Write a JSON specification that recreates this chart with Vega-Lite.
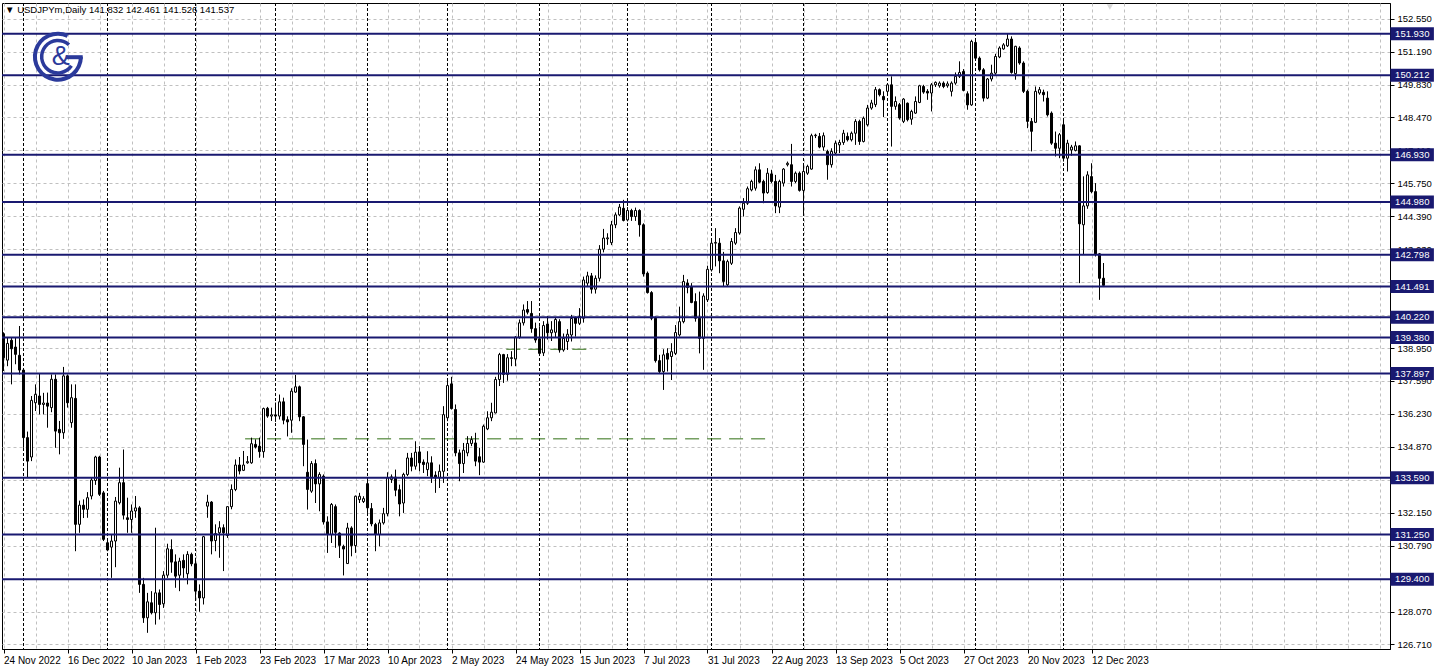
{
"$schema":"https://vega.github.io/schema/vega-lite/v6.json",
"width":1388,"height":646,
"autosize":{"type":"none"},
"padding":{"left":2,"top":3,"right":48,"bottom":22},
"background":"white",
"config":{"view":{"stroke":"black","strokeWidth":1},"font":"Liberation Sans","scale":{"continuousPadding":0}},
"datasets":{
"ohlc":[
{"i":0,"t":"2022-11-24","o":139.54,"h":139.6,"l":138.0,"c":138.55},
{"i":1,"t":"2022-11-25","o":138.45,"h":139.4,"l":138.2,"c":139.14},
{"i":2,"t":"2022-11-28","o":139.27,"h":139.4,"l":137.45,"c":138.92},
{"i":3,"t":"2022-11-29","o":138.99,"h":139.38,"l":138.28,"c":138.69},
{"i":4,"t":"2022-11-30","o":138.65,"h":139.86,"l":137.86,"c":138.04},
{"i":5,"t":"2022-12-01","o":138.04,"h":138.1,"l":134.83,"c":135.25},
{"i":6,"t":"2022-12-02","o":135.25,"h":135.5,"l":133.62,"c":134.28},
{"i":7,"t":"2022-12-05","o":134.45,"h":136.97,"l":134.28,"c":136.79},
{"i":8,"t":"2022-12-06","o":136.69,"h":137.45,"l":136.35,"c":137.04},
{"i":9,"t":"2022-12-07","o":136.97,"h":137.89,"l":136.21,"c":136.62},
{"i":10,"t":"2022-12-08","o":136.62,"h":137.1,"l":136.21,"c":136.68},
{"i":11,"t":"2022-12-09","o":136.68,"h":137.11,"l":135.66,"c":136.55},
{"i":12,"t":"2022-12-12","o":136.49,"h":137.86,"l":136.3,"c":137.66},
{"i":13,"t":"2022-12-13","o":137.66,"h":137.86,"l":134.83,"c":135.52},
{"i":14,"t":"2022-12-14","o":135.59,"h":135.94,"l":134.56,"c":135.45},
{"i":15,"t":"2022-12-15","o":135.45,"h":138.17,"l":135.2,"c":137.8},
{"i":16,"t":"2022-12-16","o":137.8,"h":137.86,"l":136.49,"c":136.69},
{"i":17,"t":"2022-12-19","o":135.87,"h":137.45,"l":135.66,"c":136.9},
{"i":18,"t":"2022-12-20","o":136.87,"h":137.45,"l":130.56,"c":131.67},
{"i":19,"t":"2022-12-21","o":131.67,"h":132.65,"l":131.32,"c":132.46},
{"i":20,"t":"2022-12-22","o":132.46,"h":132.7,"l":131.93,"c":132.29},
{"i":21,"t":"2022-12-23","o":132.29,"h":133.0,"l":131.94,"c":132.77},
{"i":22,"t":"2022-12-27","o":132.84,"h":133.6,"l":132.7,"c":133.5},
{"i":23,"t":"2022-12-28","o":133.48,"h":134.5,"l":133.3,"c":134.45},
{"i":24,"t":"2022-12-29","o":134.45,"h":134.5,"l":132.84,"c":132.91},
{"i":25,"t":"2022-12-30","o":132.97,"h":133.05,"l":130.98,"c":131.05},
{"i":26,"t":"2023-01-02","o":130.91,"h":131.05,"l":130.56,"c":130.61},
{"i":27,"t":"2023-01-03","o":130.73,"h":131.25,"l":129.46,"c":130.98},
{"i":28,"t":"2023-01-04","o":130.98,"h":132.8,"l":129.9,"c":132.63},
{"i":29,"t":"2023-01-05","o":132.56,"h":134.01,"l":132.49,"c":133.39},
{"i":30,"t":"2023-01-06","o":133.39,"h":134.76,"l":131.87,"c":132.05},
{"i":31,"t":"2023-01-09","o":131.94,"h":132.77,"l":131.32,"c":131.87},
{"i":32,"t":"2023-01-10","o":131.87,"h":132.49,"l":131.32,"c":132.22},
{"i":33,"t":"2023-01-11","o":132.22,"h":132.84,"l":131.94,"c":132.35},
{"i":34,"t":"2023-01-12","o":132.35,"h":132.42,"l":128.84,"c":129.19},
{"i":35,"t":"2023-01-13","o":129.19,"h":129.46,"l":127.6,"c":127.81},
{"i":36,"t":"2023-01-16","o":127.81,"h":128.84,"l":127.19,"c":128.47},
{"i":37,"t":"2023-01-17","o":128.43,"h":128.91,"l":127.95,"c":128.02},
{"i":38,"t":"2023-01-18","o":128.02,"h":131.53,"l":127.53,"c":128.84},
{"i":39,"t":"2023-01-19","o":128.84,"h":128.98,"l":127.74,"c":128.36},
{"i":40,"t":"2023-01-20","o":128.39,"h":129.74,"l":128.22,"c":129.57},
{"i":41,"t":"2023-01-23","o":129.57,"h":130.87,"l":129.46,"c":130.66},
{"i":42,"t":"2023-01-24","o":130.63,"h":131.05,"l":129.67,"c":130.11},
{"i":43,"t":"2023-01-25","o":130.12,"h":130.43,"l":129.05,"c":129.53},
{"i":44,"t":"2023-01-26","o":129.57,"h":130.29,"l":128.91,"c":130.15},
{"i":45,"t":"2023-01-27","o":130.18,"h":130.43,"l":129.46,"c":129.87},
{"i":46,"t":"2023-01-30","o":129.63,"h":130.56,"l":129.19,"c":130.43},
{"i":47,"t":"2023-01-31","o":130.43,"h":130.5,"l":129.94,"c":130.04},
{"i":48,"t":"2023-02-01","o":130.04,"h":130.29,"l":128.63,"c":128.91},
{"i":49,"t":"2023-02-02","o":128.91,"h":129.19,"l":128.06,"c":128.63},
{"i":50,"t":"2023-02-03","o":128.63,"h":131.19,"l":128.36,"c":131.16},
{"i":51,"t":"2023-02-06","o":132.42,"h":132.89,"l":131.94,"c":132.59},
{"i":52,"t":"2023-02-07","o":132.59,"h":132.63,"l":130.43,"c":130.98},
{"i":53,"t":"2023-02-08","o":131.0,"h":131.67,"l":130.56,"c":131.29},
{"i":54,"t":"2023-02-09","o":131.32,"h":131.8,"l":130.29,"c":131.53},
{"i":55,"t":"2023-02-10","o":131.53,"h":131.67,"l":129.74,"c":131.32},
{"i":56,"t":"2023-02-13","o":131.21,"h":132.42,"l":131.11,"c":132.4},
{"i":57,"t":"2023-02-14","o":132.4,"h":133.32,"l":132.29,"c":133.11},
{"i":58,"t":"2023-02-15","o":133.11,"h":134.35,"l":133.04,"c":134.12},
{"i":59,"t":"2023-02-16","o":134.12,"h":134.45,"l":133.73,"c":133.87},
{"i":60,"t":"2023-02-17","o":133.9,"h":134.7,"l":133.87,"c":134.12},
{"i":61,"t":"2023-02-20","o":134.21,"h":134.49,"l":134.17,"c":134.26},
{"i":62,"t":"2023-02-21","o":134.21,"h":135.25,"l":134.17,"c":135.0},
{"i":63,"t":"2023-02-22","o":134.97,"h":135.18,"l":134.8,"c":134.86},
{"i":64,"t":"2023-02-23","o":134.9,"h":135.25,"l":134.42,"c":134.67},
{"i":65,"t":"2023-02-24","o":134.67,"h":136.49,"l":134.42,"c":136.45},
{"i":66,"t":"2023-02-27","o":136.46,"h":136.52,"l":136.07,"c":136.14},
{"i":67,"t":"2023-02-28","o":136.14,"h":136.49,"l":135.94,"c":136.19},
{"i":68,"t":"2023-03-01","o":136.19,"h":136.7,"l":135.9,"c":136.14},
{"i":69,"t":"2023-03-02","o":136.14,"h":137.03,"l":136.0,"c":136.73},
{"i":70,"t":"2023-03-03","o":136.73,"h":136.9,"l":135.8,"c":135.97},
{"i":71,"t":"2023-03-06","o":135.99,"h":136.13,"l":135.3,"c":135.9},
{"i":72,"t":"2023-03-07","o":135.97,"h":137.29,"l":135.45,"c":137.17},
{"i":73,"t":"2023-03-08","o":137.13,"h":137.84,"l":137.1,"c":137.35},
{"i":74,"t":"2023-03-09","o":137.35,"h":137.4,"l":135.93,"c":136.11},
{"i":75,"t":"2023-03-10","o":136.11,"h":136.14,"l":134.07,"c":134.97},
{"i":76,"t":"2023-03-13","o":133.82,"h":135.17,"l":132.28,"c":133.11},
{"i":77,"t":"2023-03-14","o":133.04,"h":134.28,"l":132.97,"c":134.18},
{"i":78,"t":"2023-03-15","o":134.18,"h":134.35,"l":132.55,"c":133.34},
{"i":79,"t":"2023-03-16","o":133.34,"h":133.82,"l":132.21,"c":133.73},
{"i":80,"t":"2023-03-17","o":133.66,"h":133.73,"l":131.66,"c":131.77},
{"i":81,"t":"2023-03-20","o":131.77,"h":132.0,"l":130.49,"c":131.25},
{"i":82,"t":"2023-03-21","o":131.25,"h":132.55,"l":130.9,"c":132.49},
{"i":83,"t":"2023-03-22","o":132.4,"h":132.49,"l":130.7,"c":131.34},
{"i":84,"t":"2023-03-23","o":131.31,"h":131.34,"l":130.28,"c":130.8},
{"i":85,"t":"2023-03-24","o":130.76,"h":130.83,"l":129.56,"c":130.65},
{"i":86,"t":"2023-03-27","o":130.05,"h":131.73,"l":130.05,"c":131.52},
{"i":87,"t":"2023-03-28","o":131.52,"h":131.59,"l":130.35,"c":130.79},
{"i":88,"t":"2023-03-29","o":130.79,"h":132.86,"l":130.49,"c":132.83},
{"i":89,"t":"2023-03-30","o":132.69,"h":132.97,"l":132.55,"c":132.83},
{"i":90,"t":"2023-03-31","o":132.61,"h":132.83,"l":132.55,"c":132.73},
{"i":91,"t":"2023-04-03","o":133.35,"h":133.59,"l":132.14,"c":132.35},
{"i":92,"t":"2023-04-04","o":132.32,"h":132.55,"l":131.59,"c":131.69},
{"i":93,"t":"2023-04-05","o":131.66,"h":131.73,"l":130.56,"c":131.25},
{"i":94,"t":"2023-04-06","o":131.25,"h":131.87,"l":130.76,"c":131.73},
{"i":95,"t":"2023-04-07","o":131.73,"h":132.35,"l":131.66,"c":132.11},
{"i":96,"t":"2023-04-10","o":132.11,"h":133.82,"l":132.0,"c":133.59},
{"i":97,"t":"2023-04-11","o":133.52,"h":133.73,"l":133.38,"c":133.63},
{"i":98,"t":"2023-04-12","o":133.62,"h":133.93,"l":132.83,"c":133.08},
{"i":99,"t":"2023-04-13","o":133.1,"h":133.31,"l":132.0,"c":132.51},
{"i":100,"t":"2023-04-14","o":132.55,"h":133.8,"l":132.14,"c":133.73},
{"i":101,"t":"2023-04-17","o":133.73,"h":134.62,"l":133.66,"c":134.41},
{"i":102,"t":"2023-04-18","o":134.41,"h":134.62,"l":133.86,"c":134.07},
{"i":103,"t":"2023-04-19","o":134.07,"h":135.1,"l":133.93,"c":134.65},
{"i":104,"t":"2023-04-20","o":134.66,"h":134.9,"l":133.86,"c":134.21},
{"i":105,"t":"2023-04-21","o":134.24,"h":134.35,"l":133.79,"c":134.14},
{"i":106,"t":"2023-04-24","o":133.93,"h":134.69,"l":133.66,"c":134.21},
{"i":107,"t":"2023-04-25","o":134.21,"h":134.48,"l":133.38,"c":133.63},
{"i":108,"t":"2023-04-26","o":133.7,"h":133.86,"l":132.97,"c":133.59},
{"i":109,"t":"2023-04-27","o":133.59,"h":134.14,"l":133.17,"c":133.86},
{"i":110,"t":"2023-04-28","o":133.86,"h":136.55,"l":133.38,"c":136.2},
{"i":111,"t":"2023-05-01","o":136.07,"h":137.65,"l":135.93,"c":137.4},
{"i":112,"t":"2023-05-02","o":137.47,"h":137.76,"l":136.41,"c":136.45},
{"i":113,"t":"2023-05-03","o":136.41,"h":136.62,"l":134.48,"c":134.62},
{"i":114,"t":"2023-05-04","o":134.62,"h":134.76,"l":133.45,"c":134.18},
{"i":115,"t":"2023-05-05","o":134.18,"h":135.03,"l":133.79,"c":134.73},
{"i":116,"t":"2023-05-08","o":134.62,"h":135.31,"l":134.48,"c":135.01},
{"i":117,"t":"2023-05-09","o":135.01,"h":135.31,"l":134.9,"c":135.17},
{"i":118,"t":"2023-05-10","o":135.03,"h":135.45,"l":134.07,"c":134.28},
{"i":119,"t":"2023-05-11","o":134.46,"h":134.83,"l":133.7,"c":134.24},
{"i":120,"t":"2023-05-12","o":134.24,"h":135.79,"l":134.21,"c":135.72},
{"i":121,"t":"2023-05-15","o":135.61,"h":136.34,"l":135.56,"c":136.07},
{"i":122,"t":"2023-05-16","o":136.07,"h":136.69,"l":135.93,"c":136.3},
{"i":123,"t":"2023-05-17","o":136.27,"h":137.76,"l":136.25,"c":137.65},
{"i":124,"t":"2023-05-18","o":137.65,"h":138.75,"l":137.38,"c":138.68},
{"i":125,"t":"2023-05-19","o":138.68,"h":138.71,"l":137.51,"c":137.86},
{"i":126,"t":"2023-05-22","o":137.86,"h":138.7,"l":137.6,"c":138.55},
{"i":127,"t":"2023-05-23","o":138.55,"h":138.82,"l":138.2,"c":138.52},
{"i":128,"t":"2023-05-24","o":138.5,"h":139.44,"l":138.2,"c":139.4},
{"i":129,"t":"2023-05-25","o":139.4,"h":140.13,"l":139.33,"c":139.99},
{"i":130,"t":"2023-05-26","o":139.99,"h":140.75,"l":139.88,"c":140.52},
{"i":131,"t":"2023-05-29","o":140.54,"h":140.89,"l":140.34,"c":140.43},
{"i":132,"t":"2023-05-30","o":140.38,"h":140.89,"l":139.58,"c":139.75},
{"i":133,"t":"2023-05-31","o":139.75,"h":140.0,"l":139.17,"c":139.28},
{"i":134,"t":"2023-06-01","o":139.33,"h":139.85,"l":138.62,"c":138.73},
{"i":135,"t":"2023-06-02","o":138.75,"h":140.06,"l":138.62,"c":139.88},
{"i":136,"t":"2023-06-05","o":139.94,"h":140.27,"l":139.3,"c":139.58},
{"i":137,"t":"2023-06-06","o":139.58,"h":140.06,"l":139.24,"c":139.7},
{"i":138,"t":"2023-06-07","o":139.6,"h":140.2,"l":139.4,"c":140.13},
{"i":139,"t":"2023-06-08","o":140.04,"h":140.14,"l":138.76,"c":138.87},
{"i":140,"t":"2023-06-09","o":138.87,"h":139.55,"l":138.8,"c":139.35},
{"i":141,"t":"2023-06-12","o":139.22,"h":139.73,"l":138.87,"c":139.52},
{"i":142,"t":"2023-06-13","o":139.49,"h":140.32,"l":139.22,"c":140.17},
{"i":143,"t":"2023-06-14","o":140.19,"h":140.25,"l":139.42,"c":139.97},
{"i":144,"t":"2023-06-15","o":139.97,"h":140.6,"l":139.9,"c":140.25},
{"i":145,"t":"2023-06-16","o":140.18,"h":141.9,"l":140.0,"c":141.76},
{"i":146,"t":"2023-06-19","o":141.63,"h":142.1,"l":141.5,"c":141.93},
{"i":147,"t":"2023-06-20","o":141.93,"h":142.05,"l":141.2,"c":141.38},
{"i":148,"t":"2023-06-21","o":141.38,"h":141.95,"l":141.2,"c":141.83},
{"i":149,"t":"2023-06-22","o":141.83,"h":143.2,"l":141.7,"c":143.03},
{"i":150,"t":"2023-06-23","o":143.03,"h":143.87,"l":142.9,"c":143.49},
{"i":151,"t":"2023-06-26","o":143.46,"h":143.69,"l":143.21,"c":143.5},
{"i":152,"t":"2023-06-27","o":143.3,"h":144.2,"l":143.2,"c":144.04},
{"i":153,"t":"2023-06-28","o":144.04,"h":144.55,"l":143.9,"c":144.45},
{"i":154,"t":"2023-06-29","o":144.45,"h":144.9,"l":144.4,"c":144.77},
{"i":155,"t":"2023-06-30","o":144.72,"h":145.07,"l":144.18,"c":144.22},
{"i":156,"t":"2023-07-03","o":144.24,"h":144.77,"l":144.18,"c":144.63},
{"i":157,"t":"2023-07-04","o":144.63,"h":144.7,"l":144.2,"c":144.38},
{"i":158,"t":"2023-07-05","o":144.38,"h":144.75,"l":144.2,"c":144.63},
{"i":159,"t":"2023-07-06","o":144.63,"h":144.68,"l":143.55,"c":144.04},
{"i":160,"t":"2023-07-07","o":144.04,"h":144.1,"l":141.9,"c":142.01},
{"i":161,"t":"2023-07-10","o":142.04,"h":142.11,"l":141.2,"c":141.24},
{"i":162,"t":"2023-07-11","o":141.24,"h":141.3,"l":140.1,"c":140.18},
{"i":163,"t":"2023-07-12","o":140.18,"h":140.25,"l":138.35,"c":138.43},
{"i":164,"t":"2023-07-13","o":138.43,"h":138.67,"l":137.9,"c":137.98},
{"i":165,"t":"2023-07-14","o":137.98,"h":138.9,"l":137.22,"c":138.67},
{"i":166,"t":"2023-07-17","o":138.73,"h":138.94,"l":137.98,"c":138.49},
{"i":167,"t":"2023-07-18","o":138.6,"h":139.15,"l":137.63,"c":138.8},
{"i":168,"t":"2023-07-19","o":138.73,"h":139.9,"l":138.66,"c":139.59},
{"i":169,"t":"2023-07-20","o":139.49,"h":140.66,"l":139.42,"c":140.04},
{"i":170,"t":"2023-07-21","o":140.04,"h":141.97,"l":139.97,"c":141.7},
{"i":171,"t":"2023-07-24","o":141.63,"h":141.79,"l":141.21,"c":141.45},
{"i":172,"t":"2023-07-25","o":141.49,"h":141.63,"l":140.8,"c":140.83},
{"i":173,"t":"2023-07-26","o":140.87,"h":141.21,"l":140.04,"c":140.18},
{"i":174,"t":"2023-07-27","o":140.18,"h":141.28,"l":138.73,"c":139.35},
{"i":175,"t":"2023-07-28","o":139.35,"h":141.21,"l":138.05,"c":141.1},
{"i":176,"t":"2023-07-31","o":140.94,"h":142.35,"l":140.85,"c":142.2},
{"i":177,"t":"2023-08-01","o":142.18,"h":143.49,"l":142.11,"c":143.28},
{"i":178,"t":"2023-08-02","o":143.28,"h":143.9,"l":142.32,"c":143.31},
{"i":179,"t":"2023-08-03","o":143.28,"h":143.49,"l":142.04,"c":142.55},
{"i":180,"t":"2023-08-04","o":142.55,"h":142.92,"l":141.5,"c":141.7},
{"i":181,"t":"2023-08-07","o":141.56,"h":142.6,"l":141.5,"c":142.52},
{"i":182,"t":"2023-08-08","o":142.45,"h":143.49,"l":142.38,"c":143.35},
{"i":183,"t":"2023-08-09","o":143.28,"h":143.9,"l":143.21,"c":143.72},
{"i":184,"t":"2023-08-10","o":143.7,"h":144.8,"l":143.63,"c":144.73},
{"i":185,"t":"2023-08-11","o":144.68,"h":145.14,"l":144.38,"c":144.93},
{"i":186,"t":"2023-08-14","o":144.93,"h":145.62,"l":144.86,"c":145.53},
{"i":187,"t":"2023-08-15","o":145.48,"h":145.9,"l":145.42,"c":145.83},
{"i":188,"t":"2023-08-16","o":145.55,"h":146.45,"l":145.45,"c":146.31},
{"i":189,"t":"2023-08-17","o":146.31,"h":146.58,"l":145.76,"c":145.8},
{"i":190,"t":"2023-08-18","o":145.83,"h":145.9,"l":144.93,"c":145.35},
{"i":191,"t":"2023-08-21","o":145.37,"h":146.38,"l":145.32,"c":146.17},
{"i":192,"t":"2023-08-22","o":146.14,"h":146.31,"l":145.76,"c":145.83},
{"i":193,"t":"2023-08-23","o":145.83,"h":146.1,"l":144.52,"c":144.82},
{"i":194,"t":"2023-08-24","o":144.77,"h":145.9,"l":144.52,"c":145.83},
{"i":195,"t":"2023-08-25","o":145.76,"h":146.38,"l":145.62,"c":146.34},
{"i":196,"t":"2023-08-28","o":146.52,"h":146.65,"l":146.45,"c":146.58},
{"i":197,"t":"2023-08-29","o":146.52,"h":147.38,"l":145.62,"c":145.83},
{"i":198,"t":"2023-08-30","o":145.83,"h":146.24,"l":145.76,"c":146.17},
{"i":199,"t":"2023-08-31","o":146.17,"h":146.24,"l":145.41,"c":145.46},
{"i":200,"t":"2023-09-01","o":145.46,"h":146.58,"l":144.45,"c":146.24},
{"i":201,"t":"2023-09-04","o":146.17,"h":146.52,"l":146.1,"c":146.45},
{"i":202,"t":"2023-09-05","o":146.34,"h":147.8,"l":146.31,"c":147.72},
{"i":203,"t":"2023-09-06","o":147.72,"h":147.8,"l":147.62,"c":147.74},
{"i":204,"t":"2023-09-07","o":147.69,"h":147.83,"l":147.2,"c":147.25},
{"i":205,"t":"2023-09-08","o":147.25,"h":147.85,"l":147.1,"c":147.72},
{"i":206,"t":"2023-09-11","o":147.07,"h":147.14,"l":145.9,"c":146.52},
{"i":207,"t":"2023-09-12","o":146.52,"h":147.2,"l":146.4,"c":147.07},
{"i":208,"t":"2023-09-13","o":147.0,"h":147.52,"l":146.93,"c":147.41},
{"i":209,"t":"2023-09-14","o":147.34,"h":147.55,"l":147.0,"c":147.44},
{"i":210,"t":"2023-09-15","o":147.44,"h":147.96,"l":147.34,"c":147.82},
{"i":211,"t":"2023-09-18","o":147.69,"h":147.85,"l":147.48,"c":147.55},
{"i":212,"t":"2023-09-19","o":147.55,"h":147.89,"l":147.48,"c":147.82},
{"i":213,"t":"2023-09-20","o":147.82,"h":148.4,"l":147.34,"c":148.31},
{"i":214,"t":"2023-09-21","o":148.31,"h":148.38,"l":147.34,"c":147.48},
{"i":215,"t":"2023-09-22","o":147.48,"h":148.51,"l":147.44,"c":148.44},
{"i":216,"t":"2023-09-25","o":148.17,"h":148.99,"l":148.1,"c":148.86},
{"i":217,"t":"2023-09-26","o":148.86,"h":149.2,"l":148.79,"c":149.07},
{"i":218,"t":"2023-09-27","o":149.0,"h":149.73,"l":148.9,"c":149.62},
{"i":219,"t":"2023-09-28","o":149.62,"h":149.67,"l":149.34,"c":149.41},
{"i":220,"t":"2023-09-29","o":149.34,"h":149.55,"l":148.49,"c":149.2},
{"i":221,"t":"2023-10-02","o":149.55,"h":149.89,"l":149.48,"c":149.82},
{"i":222,"t":"2023-10-03","o":149.82,"h":150.17,"l":147.27,"c":148.93},
{"i":223,"t":"2023-10-04","o":148.93,"h":149.34,"l":148.79,"c":149.13},
{"i":224,"t":"2023-10-05","o":149.0,"h":149.07,"l":148.38,"c":148.45},
{"i":225,"t":"2023-10-06","o":148.31,"h":149.27,"l":148.24,"c":149.23},
{"i":226,"t":"2023-10-09","o":149.06,"h":149.09,"l":148.31,"c":148.38},
{"i":227,"t":"2023-10-10","o":148.4,"h":148.79,"l":148.17,"c":148.72},
{"i":228,"t":"2023-10-11","o":148.65,"h":149.34,"l":148.62,"c":149.13},
{"i":229,"t":"2023-10-12","o":149.09,"h":149.82,"l":149.06,"c":149.78},
{"i":230,"t":"2023-10-13","o":149.75,"h":149.82,"l":149.45,"c":149.52},
{"i":231,"t":"2023-10-16","o":149.55,"h":149.64,"l":149.2,"c":149.48},
{"i":232,"t":"2023-10-17","o":149.48,"h":149.89,"l":148.72,"c":149.82},
{"i":233,"t":"2023-10-18","o":149.82,"h":149.96,"l":149.73,"c":149.92},
{"i":234,"t":"2023-10-19","o":149.78,"h":149.96,"l":149.7,"c":149.89},
{"i":235,"t":"2023-10-20","o":149.89,"h":149.96,"l":149.68,"c":149.75},
{"i":236,"t":"2023-10-23","o":149.78,"h":149.96,"l":149.7,"c":149.86},
{"i":237,"t":"2023-10-24","o":149.55,"h":149.96,"l":149.34,"c":149.89},
{"i":238,"t":"2023-10-25","o":149.89,"h":150.33,"l":149.82,"c":150.17},
{"i":239,"t":"2023-10-26","o":150.17,"h":150.79,"l":150.1,"c":150.33},
{"i":240,"t":"2023-10-27","o":150.37,"h":150.47,"l":149.55,"c":149.59},
{"i":241,"t":"2023-10-30","o":149.45,"h":149.55,"l":148.79,"c":148.99},
{"i":242,"t":"2023-10-31","o":148.99,"h":151.68,"l":148.95,"c":151.61},
{"i":243,"t":"2023-11-01","o":151.57,"h":151.65,"l":150.86,"c":150.92},
{"i":244,"t":"2023-11-02","o":150.92,"h":150.99,"l":150.37,"c":150.44},
{"i":245,"t":"2023-11-03","o":150.44,"h":150.51,"l":149.13,"c":149.27},
{"i":246,"t":"2023-11-06","o":149.27,"h":150.1,"l":149.23,"c":150.06},
{"i":247,"t":"2023-11-07","o":150.06,"h":150.65,"l":149.96,"c":150.3},
{"i":248,"t":"2023-11-08","o":150.3,"h":151.1,"l":150.23,"c":150.99},
{"i":249,"t":"2023-11-09","o":150.97,"h":151.41,"l":150.92,"c":151.34},
{"i":250,"t":"2023-11-10","o":151.3,"h":151.54,"l":151.27,"c":151.47},
{"i":251,"t":"2023-11-13","o":151.43,"h":151.93,"l":151.38,"c":151.71},
{"i":252,"t":"2023-11-14","o":151.71,"h":151.82,"l":150.28,"c":150.33},
{"i":253,"t":"2023-11-15","o":150.28,"h":151.43,"l":150.03,"c":151.41},
{"i":254,"t":"2023-11-16","o":151.34,"h":151.41,"l":150.65,"c":150.72},
{"i":255,"t":"2023-11-17","o":150.72,"h":150.79,"l":149.48,"c":149.55},
{"i":256,"t":"2023-11-20","o":149.55,"h":149.62,"l":148.03,"c":148.31},
{"i":257,"t":"2023-11-21","o":148.31,"h":148.45,"l":147.07,"c":147.9},
{"i":258,"t":"2023-11-22","o":148.27,"h":149.75,"l":148.24,"c":149.55},
{"i":259,"t":"2023-11-23","o":149.48,"h":149.73,"l":149.41,"c":149.62},
{"i":260,"t":"2023-11-24","o":149.51,"h":149.62,"l":149.13,"c":149.41},
{"i":261,"t":"2023-11-27","o":149.27,"h":149.55,"l":148.51,"c":148.58},
{"i":262,"t":"2023-11-28","o":148.65,"h":148.72,"l":147.34,"c":147.41},
{"i":263,"t":"2023-11-29","o":147.41,"h":147.89,"l":146.86,"c":147.2},
{"i":264,"t":"2023-11-30","o":147.2,"h":147.83,"l":146.79,"c":147.76},
{"i":265,"t":"2023-12-01","o":148.17,"h":148.38,"l":146.65,"c":146.79},
{"i":266,"t":"2023-12-04","o":146.79,"h":147.55,"l":146.24,"c":147.41},
{"i":267,"t":"2023-12-05","o":147.13,"h":147.34,"l":146.89,"c":147.25},
{"i":268,"t":"2023-12-06","o":147.11,"h":147.48,"l":147.07,"c":147.3},
{"i":269,"t":"2023-12-07","o":147.3,"h":147.32,"l":141.63,"c":144.08},
{"i":270,"t":"2023-12-08","o":144.04,"h":146.04,"l":142.8,"c":144.82},
{"i":271,"t":"2023-12-11","o":144.82,"h":146.25,"l":144.7,"c":146.1},
{"i":272,"t":"2023-12-12","o":146.03,"h":146.58,"l":145.34,"c":145.41},
{"i":273,"t":"2023-12-13","o":145.41,"h":145.76,"l":142.73,"c":142.84},
{"i":274,"t":"2023-12-14","o":142.84,"h":142.87,"l":140.94,"c":141.83},
{"i":275,"t":"2023-12-15","o":141.832,"h":142.461,"l":141.526,"c":141.537}
],
"levels":[{"p":151.93},{"p":150.212},{"p":146.93},{"p":144.98},{"p":142.798},{"p":141.491},{"p":140.22},{"p":139.38},{"p":137.897},{"p":133.59},{"p":131.25},{"p":129.4}],
"seps":[{"i":5},{"i":26},{"i":48},{"i":68},{"i":91},{"i":111},{"i":134},{"i":156},{"i":177},{"i":200},{"i":221},{"i":243},{"i":265}],
"hl":[{"a":60.4,"b":190.4,"p":135.2},{"a":125.7,"b":146.7,"p":138.9}]
},
"layer":[
{"data":{"name":"seps"},"mark":{"type":"rule","color":"black","strokeWidth":1,"strokeDash":[3,2]},
 "encoding":{"x":{"field":"i","type":"quantitative","title":null,"scale":{"domain":[-0.375,346.625],"nice":false,"zero":false,"padding":0},
  "axis":{"orient":"bottom","tickCount":200,"values":[0,8,16,24,32,40,48,56,64,72,80,88,96,104,112,120,128,136,144,152,160,168,176,184,192,200,208,216,224,232,240,248,256,264,272,280,288,296,304,312,320,328,336,344],
   "grid":true,"gridColor":"#c0c0c0","gridDash":[3,3],"gridWidth":1,"domainColor":"black","tickColor":"black","tickSize":4,
   "tickOpacity":{"condition":{"test":"datum.value % 16 == 0 && datum.value <= 272","value":1},"value":0},
   "labelExpr":"(datum.value % 16 == 0 && datum.value <= 272) ? ['24 Nov 2022','16 Dec 2022','10 Jan 2023','1 Feb 2023','23 Feb 2023','17 Mar 2023','10 Apr 2023','2 May 2023','24 May 2023','15 Jun 2023','7 Jul 2023','31 Jul 2023','22 Aug 2023','13 Sep 2023','5 Oct 2023','27 Oct 2023','20 Nov 2023','12 Dec 2023'][datum.value/16] : ''",
   "labelAlign":"left","labelBaseline":"top","labelPadding":2,"labelFontSize":10,"labelColor":"black","labelFont":"Liberation Sans","labelOverlap":false,"labelFlush":false,"zindex":0}}}},
{"data":{"name":"hl"},"mark":{"type":"rule","color":"#2f6f12","strokeWidth":1,"strokeDash":[14,8]},
 "encoding":{"x":{"field":"a","type":"quantitative","scale":{"domain":[-0.375,346.625],"nice":false,"zero":false,"padding":0}},"x2":{"field":"b"},
  "y":{"field":"p","type":"quantitative","title":null,"scale":{"domain":[126.522,153.198],"nice":false,"zero":false,"padding":0},
   "axis":{"orient":"right","tickCount":200,"values":[126.71,128.07,129.43,130.79,132.15,133.51,134.87,136.23,137.59,138.95,140.31,141.67,143.03,144.39,145.75,147.11,148.47,149.83,151.19,152.55],
    "format":".3f","grid":true,"gridColor":"#c0c0c0","gridDash":[3,3],"domainColor":"black","tickColor":"black","tickSize":4,"labelPadding":3,
    "labelFontSize":9.5,"labelColor":"black","labelFont":"Liberation Sans","labelBaseline":"middle","labelOverlap":false,"labelFlush":false,"labelBound":false,"zindex":0}}}},
{"data":{"name":"ohlc"},"mark":{"type":"rule","color":"black","strokeWidth":1},
 "encoding":{"x":{"field":"i","type":"quantitative","scale":{"domain":[-0.375,346.625],"nice":false,"zero":false,"padding":0}},
  "y":{"field":"l","type":"quantitative","scale":{"domain":[126.522,153.198],"nice":false,"zero":false,"padding":0}},"y2":{"field":"h"}}},
{"data":{"name":"ohlc"},"mark":{"type":"bar","width":2,"stroke":"black","strokeWidth":1},
 "encoding":{"x":{"field":"i","type":"quantitative","scale":{"domain":[-0.375,346.625],"nice":false,"zero":false,"padding":0}},
  "y":{"field":"o","type":"quantitative","scale":{"domain":[126.522,153.198],"nice":false,"zero":false,"padding":0}},"y2":{"field":"c"},
  "fill":{"condition":{"test":"datum.c >= datum.o","value":"white"},"value":"black"}}},
{"data":{"name":"levels"},"mark":{"type":"rule","color":"#191970","strokeWidth":2},
 "encoding":{"y":{"field":"p","type":"quantitative","scale":{"domain":[126.522,153.198],"nice":false,"zero":false,"padding":0}}}},
{"data":{"name":"levels"},"mark":{"type":"bar","color":"#191970"},
 "encoding":{"x":{"datum":346.7,"type":"quantitative","scale":{"domain":[-0.375,346.625],"nice":false,"zero":false,"padding":0}},"x2":{"datum":357.6},
  "y":{"field":"p","type":"quantitative","scale":{"domain":[126.522,153.198],"nice":false,"zero":false,"padding":0}},"size":{"value":13}}},
{"data":{"name":"levels"},"mark":{"type":"text","color":"white","align":"left","baseline":"middle","fontSize":9.5,"font":"Liberation Sans"},
 "encoding":{"x":{"datum":347.9,"type":"quantitative","scale":{"domain":[-0.375,346.625],"nice":false,"zero":false,"padding":0}},
  "y":{"field":"p","type":"quantitative","scale":{"domain":[126.522,153.198],"nice":false,"zero":false,"padding":0}},"text":{"field":"p","format":".3f"}}},
{"data":{"values":[{"s":"▼ USDJPYm,Daily  141.832 142.461 141.526 141.537"}]},"mark":{"type":"text","color":"black","align":"left","baseline":"middle","fontSize":9.5,"font":"Liberation Sans"},
 "encoding":{"x":{"datum":0.4,"type":"quantitative","scale":{"domain":[-0.375,346.625],"nice":false,"zero":false,"padding":0}},
  "y":{"datum":152.92,"type":"quantitative","scale":{"domain":[126.522,153.198],"nice":false,"zero":false,"padding":0}},"text":{"field":"s"}}},
{"data":{"values":[{"k":"marker"}]},"mark":{"type":"point","shape":"triangle-down","filled":true,"color":"#c8c8c8","size":40},
 "encoding":{"x":{"datum":276.6,"type":"quantitative","scale":{"domain":[-0.375,346.625],"nice":false,"zero":false,"padding":0}},
  "y":{"datum":153.03,"type":"quantitative","scale":{"domain":[126.522,153.198],"nice":false,"zero":false,"padding":0}}}},
{"data":{"values":[{"k":"outer"}]},"mark":{"type":"arc","color":"#2b3a9b","radius":25,"radius2":21,"theta":1.5708,"theta2":6.72},
 "encoding":{"x":{"datum":13.6,"type":"quantitative","scale":{"domain":[-0.375,346.625],"nice":false,"zero":false,"padding":0}},
  "y":{"datum":150.98,"type":"quantitative","scale":{"domain":[126.522,153.198],"nice":false,"zero":false,"padding":0}}}},
{"data":{"values":[{"k":"inner"}]},"mark":{"type":"arc","color":"#2b3a9b","radius":18,"radius2":14.5,"theta":2.16,"theta2":7.03},
 "encoding":{"x":{"datum":13.6,"type":"quantitative","scale":{"domain":[-0.375,346.625],"nice":false,"zero":false,"padding":0}},
  "y":{"datum":150.98,"type":"quantitative","scale":{"domain":[126.522,153.198],"nice":false,"zero":false,"padding":0}}}},
{"data":{"values":[{"k":"bar"}]},"mark":{"type":"rule","color":"#2b3a9b","strokeWidth":4},
 "encoding":{"x":{"datum":15.6,"type":"quantitative","scale":{"domain":[-0.375,346.625],"nice":false,"zero":false,"padding":0}},"x2":{"datum":19.8},
  "y":{"datum":150.96,"type":"quantitative","scale":{"domain":[126.522,153.198],"nice":false,"zero":false,"padding":0}}}},
{"data":{"values":[{"s":"&"}]},"mark":{"type":"text","color":"#2b3a9b","align":"center","baseline":"middle","fontSize":27,"font":"Liberation Sans"},
 "encoding":{"x":{"datum":14.3,"type":"quantitative","scale":{"domain":[-0.375,346.625],"nice":false,"zero":false,"padding":0}},
  "y":{"datum":150.95,"type":"quantitative","scale":{"domain":[126.522,153.198],"nice":false,"zero":false,"padding":0}},"text":{"field":"s"}}}
]
}
